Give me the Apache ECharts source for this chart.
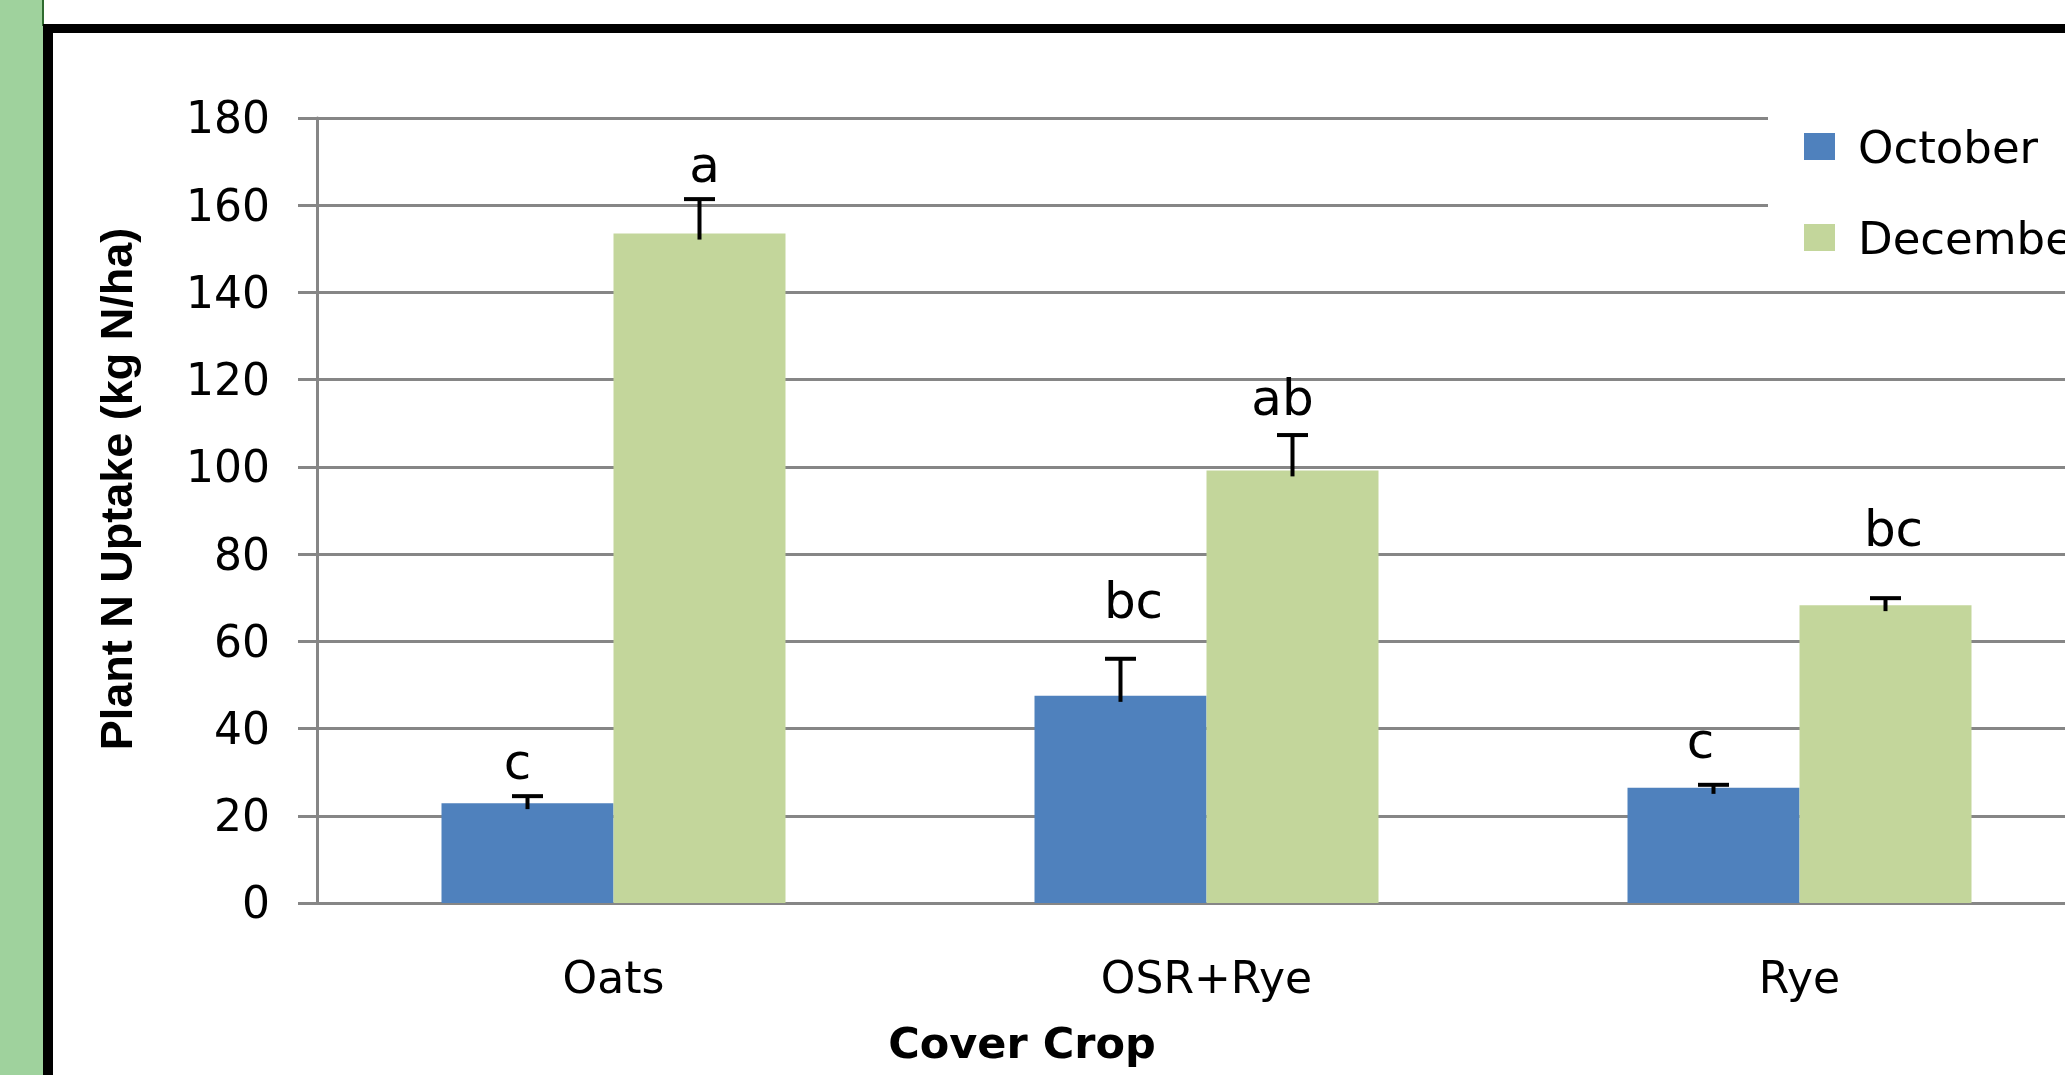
<!DOCTYPE html>
<html>
<head>
<meta charset="utf-8">
<script src="https://cdn.jsdelivr.net/npm/echarts@6/dist/echarts.min.js"></script>
<style>
  html, body { margin: 0; padding: 0; background: #fff; }
  #chart { width: 2065px; height: 1075px; }
</style>
</head>
<body>
<div id="chart"></div>
<script>
// ---- data ----
const categories = ['Oats', 'OSR+Rye', 'Rye'];
const seriesNames = ['October', 'December'];
const october = [22.9, 47.5, 26.4];
const octoberErr = [1.6, 8.5, 0.7];
const december = [153.5, 99.2, 68.3];
const decemberErr = [7.9, 8.1, 1.6];
const octoberLetters = ['c', 'bc', 'c'];
const decemberLetters = ['a', 'ab', 'bc'];
const yTicks = [0, 20, 40, 60, 80, 100, 120, 140, 160, 180];

// ---- layout / style ----
const BAR_W = 172;
const octLift = [30, 54, 40];   // px from error cap to letter centre
const decLift = [30, 33, 65];
const octNudge = [-10, 13, -13]; // px horizontal nudge of letters
const decNudge = [5, -10, 8];
const GRID = '#868686';

function errLetterRender(offset, lifts, nudges) {
  return function (params, api) {
    const i = api.value(0), v = api.value(1), e = api.value(2);
    const base = api.coord([i, v]);
    const top = api.coord([i, v + e]);
    const x = base[0] + offset;
    const letter = api.value(3);
    return {
      type: 'group',
      children: [
        { type: 'line', shape: { x1: x, y1: base[1] + 6, x2: x, y2: top[1] },
          style: { stroke: '#000', lineWidth: 4 } },
        { type: 'line', shape: { x1: x - 15.5, y1: top[1], x2: x + 15.5, y2: top[1] },
          style: { stroke: '#000', lineWidth: 4 } },
        { type: 'text', x: x + nudges[params.dataIndex], y: top[1] - lifts[params.dataIndex],
          style: { text: String(letter), fill: '#000', font: '50px "DejaVu Sans"',
                   align: 'center', verticalAlign: 'middle' } }
      ]
    };
  };
}

const chart = echarts.init(document.getElementById('chart'), null, { renderer: 'canvas' });

chart.setOption({
  backgroundColor: '#fff',
  animation: false,
  grid: { left: 317, top: 118, width: 1779, height: 785, containLabel: false, outerBoundsMode: 'none' },
  legend: {
    data: seriesNames,
    orient: 'vertical',
    left: 1768, top: 109,
    padding: [20, 40, 20, 36],
    backgroundColor: '#fff',
    icon: 'rect',
    itemWidth: 31, itemHeight: 27, itemGap: 46,
    formatter: function (name) { return '{t|' + name + '}'; },
    textStyle: {
      color: '#000',
      rich: { t: { fontFamily: 'DejaVu Sans', fontSize: 45, color: '#000', padding: [10, 0, 0, 18] } }
    },
    selectedMode: false
  },
  xAxis: {
    type: 'category',
    data: categories,
    axisLine: { show: true, lineStyle: { color: GRID, width: 3 } },
    axisTick: { show: false },
    axisLabel: { color: '#000', fontFamily: 'DejaVu Sans', fontSize: 44, margin: 57 },
    splitLine: { show: false }
  },
  yAxis: {
    type: 'value',
    min: yTicks[0], max: yTicks[yTicks.length - 1], interval: 20,
    axisLine: { show: true, lineStyle: { color: GRID, width: 3 } },
    axisTick: { show: true, inside: false, length: 19, lineStyle: { color: GRID, width: 3 } },
    axisLabel: {
      margin: 47,
      formatter: '{v|{value}}',
      rich: { v: { fontFamily: 'DejaVu Sans', fontSize: 44, color: '#000', padding: [8, 0, 0, 0] } }
    },
    splitLine: { show: true, lineStyle: { color: GRID, width: 3 } }
  },
  graphic: [
    { type: 'rect', shape: { x: 0, y: 0, width: 43, height: 1075 }, style: { fill: '#9fd29d' }, z: 100 },
    { type: 'rect', shape: { x: 42, y: 0, width: 2, height: 26 }, style: { fill: '#2f6b2f' }, z: 100 },
    { type: 'rect', shape: { x: 43, y: 24, width: 2022, height: 9 }, style: { fill: '#000' }, z: 100 },
    { type: 'rect', shape: { x: 43, y: 24, width: 10, height: 1051 }, style: { fill: '#000' }, z: 100 },
    { type: 'text', x: 120, y: 489, rotation: Math.PI / 2,
      style: { text: 'Plant N Uptake (kg N/ha)', fill: '#000', font: 'bold 45px "Liberation Sans"',
               align: 'center', verticalAlign: 'middle' }, z: 100 },
    { type: 'text', x: 1022, y: 1047,
      style: { text: 'Cover Crop', fill: '#000', font: 'bold 43px "DejaVu Sans"',
               align: 'center', verticalAlign: 'middle' }, z: 100 }
  ],
  series: [
    { name: 'October', type: 'bar', data: october, barWidth: BAR_W, barGap: '0%',
      itemStyle: { color: '#4f81bd' } },
    { name: 'December', type: 'bar', data: december, barWidth: BAR_W, barGap: '0%',
      itemStyle: { color: '#c3d69b' } },
    { type: 'custom', z: 5, renderItem: errLetterRender(-BAR_W / 2, octLift, octNudge),
      data: categories.map((c, i) => [i, october[i], octoberErr[i], octoberLetters[i]]),
      encode: { x: 0, y: 1 } },
    { type: 'custom', z: 5, renderItem: errLetterRender(BAR_W / 2, decLift, decNudge),
      data: categories.map((c, i) => [i, december[i], decemberErr[i], decemberLetters[i]]),
      encode: { x: 0, y: 1 } }
  ]
});
</script>
</body>
</html>
